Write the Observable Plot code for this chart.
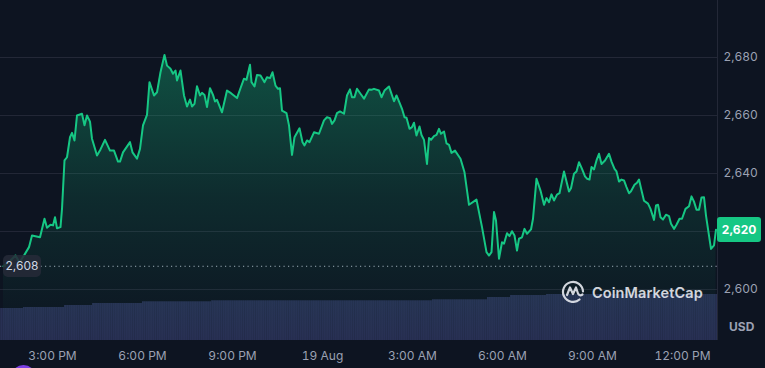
<!DOCTYPE html>
<html><head><meta charset="utf-8">
<script src="https://cdn.jsdelivr.net/npm/d3@7"></script>
<script src="https://cdn.jsdelivr.net/npm/@observablehq/plot@0.6"></script>
<style>
html,body{margin:0;padding:0;background:#0d1421;}
#wrap{position:relative;width:765px;height:368px;overflow:hidden;background:#0d1421;font-family:Inter,"Noto Sans",sans-serif;}
#wrap svg.plot{position:absolute;left:0;top:0;}
.ov{position:absolute;box-sizing:border-box;}
#openLbl{left:3px;width:38px;height:22px;border-radius:5px;background:rgba(38,42,56,0.88);color:#cfd6e4;font-size:12px;line-height:22px;text-align:center;}
#lastLbl{left:717px;width:44px;height:25px;border-radius:3px;background:#16c784;color:#fff;font-weight:700;font-size:12px;line-height:25px;text-align:center;}
#usd{left:729px;top:319px;color:#9ba1b3;font-weight:700;font-size:12px;}
#wm{left:561px;top:279px;display:flex;align-items:center;color:#e2e5ec;opacity:0.92;}
#wm span{font-weight:600;font-size:14.5px;margin-left:7px;letter-spacing:0.1px;}
#dot{left:11px;top:365px;width:25px;height:25px;border-radius:50%;background:#7b3fe4;}
</style></head><body><div id="wrap"></div>
<script>
// times are minutes after 2024-08-18 13:00 UTC
const START = Date.UTC(2024, 7, 18, 13, 0);
const minutesAfter1300 = [
22,36,46,54,63,73,79,95,104,109,
116,121,125,129,136,139,144,149,155,159,
164,169,179,184,189,195,199,209,216,225,
235,243,251,255,261,275,280,289,295,301,
309,314,323,329,336,344,349,356,361,366,
369,376,383,389,395,399,404,409,415,419,
424,429,435,441,445,449,459,469,477,489,
496,503,508,515,518,524,529,536,544,549,
555,560,566,571,575,579,588,593,599,604,
614,620,624,629,634,643,653,663,669,675,
679,684,689,695,703,709,715,719,724,729,
736,743,753,759,763,773,778,784,793,797,
803,808,815,819,824,828,834,839,843,848,
854,858,863,869,873,877,883,888,893,897,
903,908,913,918,925,936,944,953,968,979,
988,993,998,1003,1007,1013,1019,1023,1029,1034,
1039,1044,1049,1053,1059,1064,1069,1077,1081,1088,
1096,1103,1108,1113,1118,1123,1129,1134,1143,1153,
1157,1163,1168,1173,1179,1185,1189,1194,1198,1203,
1208,1213,1218,1225,1233,1238,1244,1248,1253,1258,
1263,1268,1273,1277,1284,1289,1293,1297,1303,1311,
1316,1323,1327,1331,1336,1341,1347,1353,1357,1363,
1368,1374,1379,1386,1393,1398,1403,1408,1413,1418,
1423,1427,1433,1437,1443,1447];
const prices = [
2608.0,2610.0,2611.7,2609.3,2611.7,2614.6,2618.6,2618.0,2624.4,2621.3,
2622.3,2622.1,2624.9,2621.1,2621.5,2627.8,2644.5,2645.6,2652.5,2654.0,
2651.4,2660.0,2660.6,2656.6,2660.0,2657.9,2652.0,2646.2,2648.3,2651.6,
2647.9,2647.9,2644.1,2644.1,2647.3,2650.8,2647.3,2645.1,2648.5,2656.6,
2660.2,2671.5,2666.9,2668.0,2674.9,2680.9,2677.2,2676.1,2674.4,2675.5,
2672.1,2675.5,2666.9,2663.1,2665.5,2663.1,2664.0,2670.1,2666.9,2667.8,
2667.1,2662.9,2669.4,2667.1,2664.8,2665.4,2661.1,2668.6,2667.7,2666.0,
2669.4,2672.7,2672.3,2677.5,2671.5,2670.0,2674.0,2673.8,2671.5,2673.2,
2672.9,2674.9,2670.3,2669.2,2669.4,2661.7,2660.8,2656.6,2646.4,2652.5,
2655.6,2650.8,2649.7,2651.4,2650.8,2654.2,2653.7,2658.3,2659.4,2659.1,
2657.1,2658.3,2660.8,2661.4,2660.6,2666.9,2669.0,2666.3,2666.3,2669.2,
2667.5,2665.8,2669.0,2668.9,2669.2,2668.6,2666.3,2668.6,2670.0,2668.0,
2664.9,2666.9,2664.0,2662.3,2659.4,2659.2,2655.4,2656.0,2657.5,2653.1,
2656.2,2653.3,2651.6,2643.3,2652.2,2651.6,2652.9,2653.3,2655.4,2653.7,
2654.5,2650.4,2649.9,2647.1,2647.9,2645.1,2640.4,2629.2,2631.0,2621.5,
2612.9,2611.7,2612.9,2626.7,2623.8,2610.6,2616.3,2615.8,2619.4,2618.4,
2620.1,2618.6,2613.4,2617.5,2618.0,2620.9,2619.2,2620.7,2624.4,2638.2,
2634.1,2629.2,2631.5,2630.1,2632.8,2630.7,2632.7,2633.2,2640.7,2633.8,
2634.9,2639.9,2640.7,2643.9,2641.6,2639.0,2638.2,2637.9,2642.2,2641.4,
2644.5,2646.8,2643.3,2644.5,2646.8,2644.1,2641.6,2640.7,2637.2,2637.9,
2637.6,2635.3,2633.2,2633.9,2636.1,2636.8,2637.9,2634.9,2630.6,2629.6,
2627.8,2624.0,2629.0,2629.2,2624.9,2624.1,2625.8,2625.3,2622.7,2620.9,
2622.3,2624.4,2624.4,2627.8,2628.7,2632.1,2630.3,2627.5,2627.5,2631.7,
2631.8,2625.5,2618.6,2614.0,2615.2,2620.6];
// 24h volume (billions USD), by period
const volStartMin = [16, 62, 144, 200, 300, 438, 880, 990, 1036, 1108];
const volEndMin   = [62, 144, 200, 300, 438, 880, 990, 1036, 1108, 1450];
const volumes     = [8.0, 8.25, 8.75, 9.25, 9.68, 9.93, 10.18, 10.75, 11.25, 11.5];
const yTicks = [2600, 2620, 2640, 2660, 2680];
const xTickTimes = ["2024-08-18T15:00Z","2024-08-18T18:00Z","2024-08-18T21:00Z","2024-08-19T00:00Z",
  "2024-08-19T03:00Z","2024-08-19T06:00Z","2024-08-19T09:00Z","2024-08-19T12:00Z"];
const openPrice = 2608;
const xDomainMin = [16, 1450];
const yDomain = [2582.4, 2699.66];

const toDate = m => new Date(START + m * 60000);
const xDomain = xDomainMin.map(toDate);
const data = minutesAfter1300.map((m, i) => ({t: toDate(m), p: prices[i]}));
const vol = volStartMin.map((s, i) => ({x1: toDate(s), x2: toDate(volEndMin[i]), v: volumes[i]}));
const xTicks = xTickTimes.map(s => new Date(s));
const fmtX = d => d.getUTCHours() === 0 ? d3.utcFormat("%-d %b")(d) : d3.utcFormat("%-I:%M %p")(d);
const lastPrice = prices[prices.length - 1];
const lastLabel = d3.format(",")(Math.floor(lastPrice));
// the badge sits over the axis label of the same value
const yLabelTicks = yTicks.filter(t => d3.format(",")(t) !== lastLabel);

const wrap = document.getElementById("wrap");

const volChart = Plot.plot({
  width: 765, height: 368, marginLeft: 0, marginRight: 48, marginTop: 292, marginBottom: 28,
  style: {background: "transparent"},
  x: {type: "utc", domain: xDomain, axis: null},
  y: {domain: [0, 12], axis: null},
  marks: [
    Plot.rectY(vol, {x1: "x1", x2: "x2", y: "v", fill: "url(#vstripe)"})
  ]
});
volChart.classList.add("plot");
const ns = "http://www.w3.org/2000/svg";
const vdefs = document.createElementNS(ns, "defs");
vdefs.innerHTML = `<pattern id="vstripe" patternUnits="userSpaceOnUse" width="2.2" height="10">
  <rect width="2.2" height="10" fill="#283054"/><rect width="0.6" height="10" fill="#222947"/></pattern>`;
volChart.prepend(vdefs);
wrap.appendChild(volChart);

const priceChart = Plot.plot({
  width: 765, height: 368, marginLeft: 0, marginRight: 48, marginTop: 0, marginBottom: 28,
  style: {background: "transparent", color: "#9ba1b3", fontFamily: "Inter, 'Noto Sans', sans-serif", fontSize: "12px"},
  x: {type: "utc", domain: xDomain},
  y: {domain: yDomain},
  marks: [
    Plot.gridY(yTicks, {stroke: "#232837", strokeOpacity: 1}),
    Plot.ruleY([openPrice], {stroke: "#b5bacb", strokeDasharray: "1.2,3.3", strokeOpacity: 0.9}),
    Plot.areaY(data, {x: "t", y1: yDomain[0], y2: "p", fill: "url(#pgrad)"}),
    Plot.lineY(data, {x: "t", y: "p", stroke: "#16c784", strokeWidth: 2, strokeLinejoin: "round"}),
    Plot.ruleX([xDomain[1]], {stroke: "#232837"}),
    Plot.axisY(yLabelTicks, {anchor: "right", tickSize: 0, tickPadding: 6, tickFormat: d3.format(","), label: null, fontSize: 12}),
    Plot.axisX(xTicks, {anchor: "bottom", tickSize: 0, tickPadding: 11, tickFormat: fmtX, label: null, fontSize: 12})
  ]
});
priceChart.classList.add("plot");
const pdefs = document.createElementNS(ns, "defs");
pdefs.innerHTML = `<linearGradient id="pgrad" x1="0" y1="0" x2="0" y2="1">
  <stop offset="0" stop-color="#16c784" stop-opacity="0.34"/>
  <stop offset="0.5" stop-color="#16c784" stop-opacity="0.13"/>
  <stop offset="1" stop-color="#16c784" stop-opacity="0.0"/></linearGradient>`;
priceChart.prepend(pdefs);
wrap.appendChild(priceChart);

const ys = priceChart.scale("y");
function addDiv(id, html, top) {
  const d = document.createElement("div");
  d.className = "ov"; d.id = id; d.innerHTML = html;
  if (top != null) d.style.top = top + "px";
  wrap.appendChild(d);
  return d;
}
addDiv("openLbl", d3.format(",")(openPrice), ys.apply(openPrice) - 10.5);
addDiv("lastLbl", lastLabel, ys.apply(lastPrice) - 12.5);
addDiv("usd", "USD");
addDiv("wm", `<svg width="24" height="26" viewBox="0 0 24 26"><g fill="none" stroke="#e2e5ec" stroke-width="2.2" stroke-linecap="round" stroke-linejoin="round">
<path d="M18.5 20.5 A10 10 0 1 1 22 12.5"/><path d="M6 16 L9 8.5 L12 15 L15 8.5 L17 14.5 Q18.5 17.5 21.5 15.5"/></g></svg><span>CoinMarketCap</span>`);
addDiv("dot", "");
</script></body></html>
